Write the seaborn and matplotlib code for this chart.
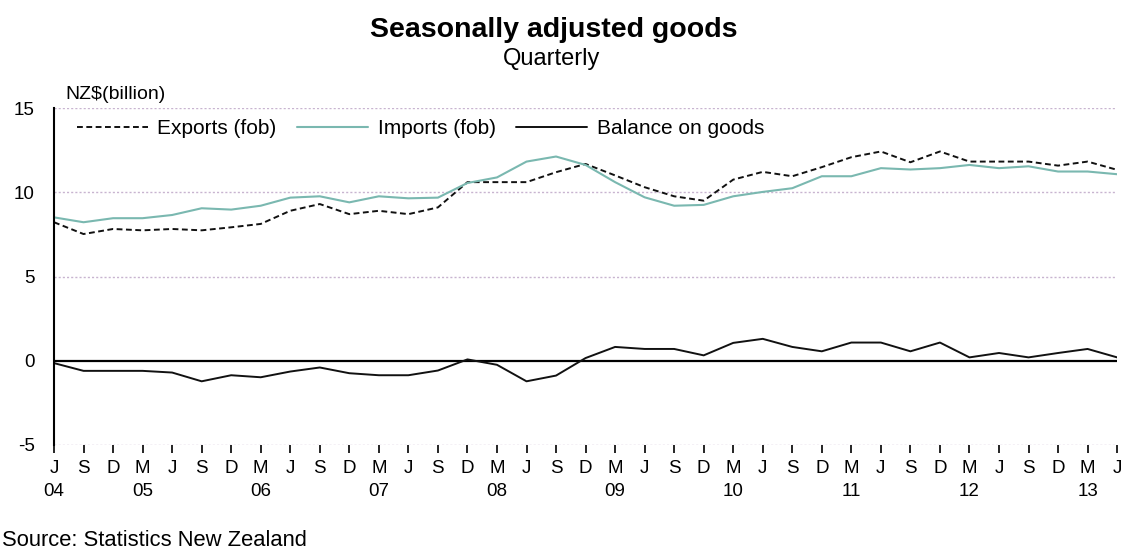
import pandas as pd
import seaborn as sns
import matplotlib.pyplot as plt

# quarters June 2004 - June 2013
quarters = ["J", "S", "D", "M"] * 9 + ["J"]
years = ["04", "05", "06", "07", "08", "09", "10", "11", "12", "13"]

exports = [8.22, 7.52, 7.82, 7.74, 7.82, 7.74, 7.92, 8.12, 8.9, 9.3, 8.7, 8.9, 8.7,
           9.1, 10.6, 10.6, 10.6, 11.19, 11.68, 11.0, 10.3, 9.76, 9.5, 10.75, 11.21,
           10.95, 11.49, 12.08, 12.42, 11.78, 12.42, 11.82, 11.82, 11.82, 11.58, 11.82, 11.33]
imports = [8.51, 8.22, 8.46, 8.46, 8.65, 9.05, 8.97, 9.2, 9.68, 9.76, 9.4, 9.76, 9.64,
           9.68, 10.55, 10.88, 11.82, 12.12, 11.62, 10.6, 9.7, 9.2, 9.25, 9.76, 10.02,
           10.24, 10.95, 10.95, 11.43, 11.35, 11.43, 11.62, 11.43, 11.54, 11.23, 11.23, 11.07]
balance = [-0.14, -0.6, -0.6, -0.6, -0.7, -1.22, -0.86, -0.98, -0.64, -0.4, -0.74, -0.86, -0.86,
           -0.58, 0.08, -0.24, -1.22, -0.88, 0.16, 0.82, 0.7, 0.7, 0.32, 1.06, 1.3,
           0.82, 0.56, 1.08, 1.08, 0.56, 1.08, 0.2, 0.46, 0.2, 0.46, 0.7, 0.2]

# year goes under the first quarter of the series, then under each March quarter
labels = []
yi = 0
for i, q in enumerate(quarters):
    if i == 0 or q == "M":
        labels.append(q + "\n" + years[yi])
        yi += 1
    else:
        labels.append(q)

df = pd.DataFrame({"t": range(len(quarters)), "Exports (fob)": exports,
                   "Imports (fob)": imports, "Balance on goods": balance})

sns.set_style("white")
plt.rcParams["font.family"] = ["Liberation Sans", "DejaVu Sans"]
plt.rcParams["axes.unicode_minus"] = False
plt.rcParams["text.color"] = "black"
plt.rcParams["xtick.labelcolor"] = "black"
plt.rcParams["ytick.labelcolor"] = "black"

fig = plt.figure(figsize=(11.25, 5.53), dpi=100)
ax = fig.add_axes([0.048, 0.1953, 0.945, 0.6094])

ax.axhline(0, color="black", lw=1.6, zorder=1)
sns.lineplot(data=df, x="t", y="Exports (fob)", color="#111111", lw=1.4,
             ax=ax, label="Exports (fob)")
ax.lines[-1].set_dashes([3, 1.8])
sns.lineplot(data=df, x="t", y="Imports (fob)", color="#7ab8b0", lw=1.5,
             ax=ax, label="Imports (fob)")
sns.lineplot(data=df, x="t", y="Balance on goods", color="#111111", lw=1.4,
             ax=ax, label="Balance on goods")

ax.set_xlim(0, len(quarters) - 1)
ax.set_ylim(-5, 15)
ax.set_yticks([-5, 0, 5, 10, 15])
ax.set_xticks(range(len(quarters)))
ax.set_xticklabels(labels, fontsize=13.5, linespacing=1.45)
ax.tick_params(axis="x", bottom=True, direction="out", length=6, width=1.2,
               color="black", pad=5)
ax.tick_params(axis="y", left=False, length=0, labelsize=13.5, pad=14)
ax.set_xlabel("")
ax.set_ylabel("")

for y in [-5, 5, 10, 15]:
    ax.axhline(y, color="#c8b4d0", lw=1, ls=(0, (1.5, 1.5)), zorder=0)

for s in ["top", "right", "bottom"]:
    ax.spines[s].set_visible(False)
ax.spines["left"].set_color("black")
ax.spines["left"].set_linewidth(1.5)

leg = ax.legend(loc="upper left", ncol=3, frameon=False, fontsize=15,
                bbox_to_anchor=(0.004, 1.022), handlelength=3.4, columnspacing=1.0,
                handletextpad=0.45)

ax.text(0.011, 1.015, "NZ$(billion)", transform=ax.transAxes, fontsize=14, va="bottom")
fig.text(0.492, 0.933, "Seasonally adjusted goods", ha="center", fontsize=20.5,
         fontweight="bold")
fig.text(0.49, 0.882, "Quarterly", ha="center", fontsize=17)
fig.text(0.002, 0.012, "Source: Statistics New Zealand", fontsize=15.8)

plt.savefig("out.png", dpi=100)
